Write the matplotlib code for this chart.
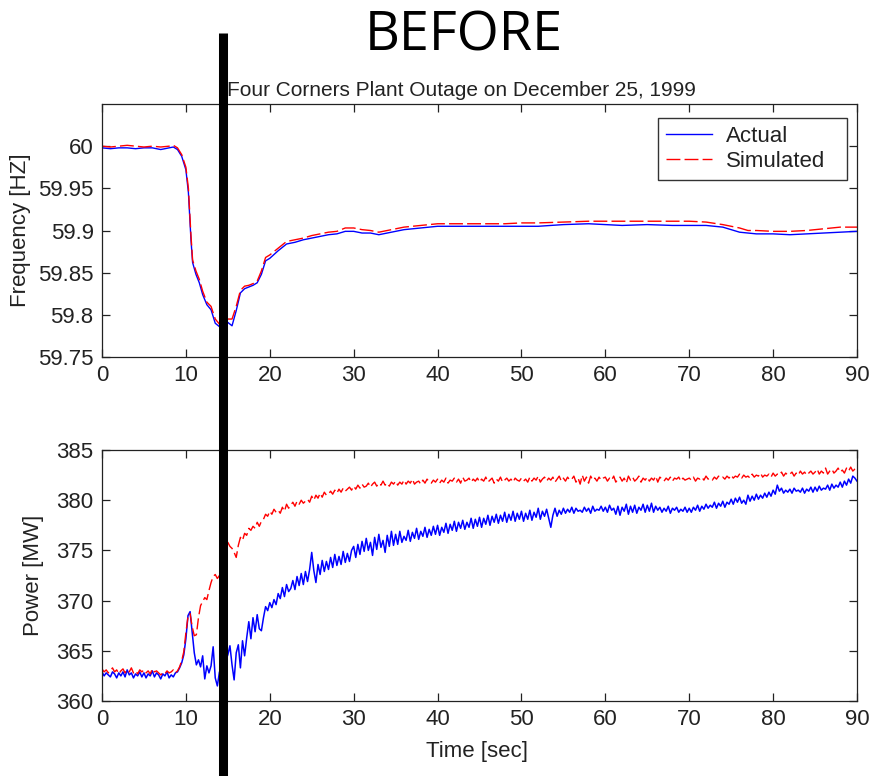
import numpy as np
import matplotlib
matplotlib.use("Agg")
import matplotlib.pyplot as plt
from matplotlib.lines import Line2D

plt.rcParams['font.family'] = ['Liberation Sans', 'DejaVu Sans']

# ---------------- data ----------------
freq_time = [0, 1, 2, 3, 4, 5, 6, 7, 8, 8.5,
             9, 9.5, 10, 10.3, 10.6, 10.8, 11.2, 11.6, 12, 12.5,
             13, 13.5, 14, 14.5, 15, 15.5, 16, 16.5, 17, 17.5,
             18, 18.5, 19, 19.5, 20, 21, 22, 23, 24, 25,
             26, 27, 28, 29, 30, 31, 32, 33, 34, 35,
             36, 38, 40, 42, 45, 48, 50, 52, 55, 58,
             60, 62, 65, 68, 70, 72, 74, 75, 76, 77,
             78, 80, 82, 84, 86, 88, 90]
freq_actual = [59.998, 59.997, 59.998, 59.998, 59.997, 59.998, 59.998, 59.996, 59.998, 59.999,
               59.996, 59.988, 59.972, 59.945, 59.890, 59.862, 59.848, 59.838, 59.824, 59.812,
               59.806, 59.790, 59.786, 59.790, 59.791, 59.787, 59.805, 59.826, 59.831, 59.833,
               59.835, 59.838, 59.848, 59.864, 59.867, 59.876, 59.884, 59.886, 59.889, 59.891,
               59.893, 59.895, 59.896, 59.899, 59.899, 59.897, 59.897, 59.895, 59.897, 59.899,
               59.901, 59.903, 59.905, 59.905, 59.905, 59.905, 59.905, 59.905, 59.907, 59.908,
               59.907, 59.906, 59.907, 59.906, 59.906, 59.906, 59.904, 59.901, 59.898, 59.897,
               59.896, 59.896, 59.895, 59.896, 59.897, 59.898, 59.899]
freq_simulated = [60.000, 59.999, 60.000, 60.001, 60.000, 59.999, 60.000, 59.999, 60.000, 60.001,
                  59.998, 59.990, 59.975, 59.950, 59.895, 59.865, 59.852, 59.842, 59.828, 59.815,
                  59.810, 59.795, 59.789, 59.792, 59.795, 59.795, 59.810, 59.829, 59.834, 59.835,
                  59.837, 59.840, 59.852, 59.868, 59.871, 59.879, 59.887, 59.889, 59.891, 59.894,
                  59.896, 59.898, 59.899, 59.903, 59.903, 59.901, 59.900, 59.898, 59.900, 59.902,
                  59.904, 59.906, 59.908, 59.908, 59.908, 59.908, 59.909, 59.909, 59.910, 59.911,
                  59.911, 59.911, 59.911, 59.911, 59.911, 59.910, 59.907, 59.905, 59.903, 59.900,
                  59.900, 59.899, 59.899, 59.900, 59.902, 59.904, 59.904]

# power sampled every 0.25 s from 0 to 90 s
power_actual = [
    362.9, 362.5, 362.8, 362.6, 362.4, 362.9, 362.7, 362.3, 362.8, 362.5, 362.9, 362.4, 363.1, 362.6, 362.8, 362.3, 362.7, 362.5, 362.9, 362.4,
    362.8, 362.3, 362.7, 362.5, 363.0, 362.4, 362.8, 362.6, 362.2, 362.7, 362.5, 362.9, 362.3, 362.6, 362.4, 362.8, 362.9, 363.3, 363.8, 364.6,
    366.2, 368.5, 368.9, 366.8, 364.8, 363.6, 364.1, 363.4, 364.5, 362.2, 363.5, 362.8, 363.5, 365.4, 362.3, 361.5, 362.9, 362.4, 363.2, 364.0,
    364.6, 365.5, 363.6, 362.1, 364.8, 365.6, 363.3, 366.0, 364.5, 366.3, 367.9, 366.2, 368.3, 366.9, 368.6, 367.2, 367.0, 368.3, 369.4, 369.0,
    369.8, 369.3, 370.1, 369.6, 370.7, 370.2, 371.3, 370.4, 371.6, 370.9, 371.2, 372.0, 371.1, 372.4, 371.5, 372.7, 371.6, 372.9, 371.9, 373.1,
    374.8, 373.0, 371.8, 373.6, 372.6, 374.0, 372.9, 373.9, 373.1, 374.3, 373.3, 374.6, 373.5, 374.4, 373.6, 374.9, 373.8, 374.7, 373.9, 375.0,
    375.4, 374.3, 375.6, 374.6, 375.9, 374.9, 376.2, 375.0, 375.8, 374.5, 376.3, 375.1, 376.6, 375.3, 376.0, 374.8, 376.5, 375.4, 376.9, 375.5,
    376.6, 375.6, 376.9, 375.8, 376.4, 376.0, 377.0, 375.9, 376.8, 376.2, 377.2, 376.1, 376.9, 376.4, 377.3, 376.3, 377.1, 376.5, 377.4, 376.6,
    377.5, 376.5, 377.3, 376.8, 377.7, 376.7, 377.6, 377.0, 377.9, 376.9, 377.8, 377.2, 378.0, 377.1, 377.8, 377.3, 378.2, 377.2, 378.1, 377.4,
    378.3, 377.3, 378.2, 377.6, 378.5, 377.5, 378.4, 377.8, 378.6, 377.7, 378.5, 377.9, 378.8, 377.8, 378.6, 378.0, 378.9, 377.9, 378.7, 378.1,
    378.9, 377.9, 378.7, 378.1, 379.0, 378.0, 378.8, 378.3, 379.2, 378.1, 378.9, 378.4, 379.1, 378.2, 377.3, 378.5, 379.2, 378.4, 379.0, 378.6,
    379.2, 378.7, 379.1, 378.8, 379.3, 378.7, 379.2, 378.9, 379.0, 378.8, 379.3, 378.9, 379.2, 378.7, 379.4, 378.9, 379.1, 379.0, 379.4, 378.9,
    379.3, 378.8, 379.5, 379.0, 379.2, 378.6, 379.4, 378.5, 379.3, 378.9, 379.6, 378.6, 379.4, 378.8, 379.5, 378.7, 379.3, 379.0, 379.6, 378.8,
    379.5, 378.9, 379.7, 378.8, 379.4, 379.0, 379.3, 378.8, 379.2, 378.9, 379.4, 378.7, 379.2, 379.0, 379.3, 378.8, 379.1, 378.9, 379.3, 378.8,
    379.2, 378.8, 379.3, 379.0, 379.5, 378.9, 379.4, 379.1, 379.6, 379.2, 379.5, 379.3, 379.8, 379.2, 379.7, 379.4, 379.9, 379.3, 379.8, 379.6,
    380.1, 379.6, 380.2, 379.8, 380.3, 379.7, 380.0, 379.6, 380.5, 379.9, 380.4, 380.0, 380.6, 380.1, 380.5, 380.2, 380.7, 380.3, 380.8, 380.4,
    381.0, 380.6, 381.5, 380.9, 381.2, 380.7, 381.0, 380.8, 381.1, 380.7, 381.2, 380.9, 381.0, 380.8, 381.2, 380.7, 381.1, 380.9, 381.3, 380.8,
    381.3, 380.9, 381.4, 381.0, 381.2, 381.1, 381.5, 381.0, 381.6, 381.2, 381.5, 381.3, 381.8, 381.3, 381.9, 381.5, 382.1, 381.7, 382.4, 382.2,
    381.9]
power_simulated = [
    363.2, 362.9, 363.1, 362.8, 363.0, 363.3, 362.9, 363.1, 362.7, 363.0, 363.2, 362.8, 363.1, 362.9, 363.3, 362.8, 363.0, 362.7, 363.1, 362.9,
    363.1, 362.8, 363.0, 362.7, 363.2, 362.9, 363.0, 362.8, 362.6, 362.8, 362.7, 363.0, 362.8, 362.9, 363.1, 362.8, 363.0, 363.4, 364.0, 364.9,
    366.8, 368.4, 368.7, 367.4, 366.5, 366.6, 368.3, 369.5, 369.9, 370.3, 370.1, 371.0, 371.8, 372.4, 372.6, 372.2, 372.5, 372.3, 373.5, 375.0,
    375.8, 375.4, 375.2, 374.8, 374.3, 375.5, 376.3, 376.0, 376.7, 376.5, 377.2, 377.0, 377.4, 377.2, 377.8, 377.4, 377.9, 378.1, 378.6, 378.4,
    378.9, 378.6, 379.1, 378.8, 379.0, 378.7, 379.3, 378.9, 379.6, 379.2, 379.5, 379.8, 379.4, 379.9, 379.6, 380.0, 379.7, 379.9, 380.1, 379.8,
    380.4, 380.0, 380.5, 380.2, 380.7, 380.3, 380.8, 380.5, 380.6, 380.9, 380.6, 381.0, 380.7, 381.1, 380.8, 381.2, 380.9, 381.1, 381.3, 381.0,
    381.4, 381.1, 381.5, 381.2, 381.6, 381.3, 381.4, 381.7, 381.3, 381.6, 381.8, 381.4, 381.7, 381.5, 381.9, 381.5, 381.7, 381.4, 381.8, 381.6,
    381.9, 381.5, 381.8, 381.6, 382.0, 381.6, 381.9, 381.7, 382.1, 381.6, 381.8, 381.9, 381.6, 382.0, 381.7, 382.1, 381.8, 381.7, 382.0, 381.8,
    382.1, 381.7, 382.0, 381.8, 382.2, 381.7, 382.0, 381.9, 382.2, 381.8, 382.1, 381.7, 382.3, 381.9, 382.0, 382.2, 381.8, 382.1, 381.9, 382.2,
    381.8, 382.1, 381.9, 382.3, 381.8, 382.0, 382.2, 381.7, 382.1, 381.9, 382.3, 381.8, 382.0, 382.2, 381.9, 382.1, 381.8, 382.2, 382.0, 381.9,
    382.2, 381.9, 382.1, 381.8, 382.3, 381.9, 382.2, 382.0, 382.4, 381.8, 382.1, 382.3, 381.9, 382.2, 382.0, 382.3, 381.8, 382.1, 382.4, 381.9,
    382.2, 381.9, 382.3, 382.0, 382.1, 382.4, 381.8, 382.2, 381.6, 382.5, 381.9, 382.3, 381.7, 382.4, 382.0, 382.2, 381.9, 382.3, 382.0, 382.2,
    382.3, 381.9, 382.2, 382.0, 382.4, 381.8, 382.1, 382.3, 381.9, 382.2, 381.7, 382.4, 382.0, 382.3, 381.9, 382.1, 382.4, 381.8, 382.2, 382.0,
    382.3, 381.9, 382.2, 382.0, 382.4, 381.8, 382.3, 382.1, 381.9, 382.2, 382.0, 382.3, 381.9, 382.2, 382.1, 382.3, 381.9, 382.2, 382.0, 382.1,
    382.2, 382.0, 382.3, 381.9, 382.2, 382.1, 382.3, 382.0, 382.4, 382.1, 382.2, 382.0, 382.3, 382.1, 382.4, 382.2, 382.3, 382.1, 382.4, 382.2,
    382.5, 382.2, 382.4, 382.3, 382.6, 382.2, 382.5, 382.3, 382.4, 382.2, 382.6, 382.3, 382.5, 382.4, 382.7, 382.3, 382.5, 382.4, 382.6, 382.3,
    382.7, 382.4, 382.6, 382.5, 382.8, 382.4, 382.7, 382.5, 382.6, 382.8, 382.4, 382.7, 382.5, 382.9, 382.6, 382.8, 382.5, 382.7, 382.9, 382.6,
    382.8, 383.1, 382.6, 382.9, 382.7, 383.2, 382.6, 382.9, 383.1, 382.7, 382.9, 383.2, 382.8, 383.0, 382.7, 383.2, 382.9, 383.3, 382.9, 383.1,
    383.2]
time_start, time_end = 0, 90

x_ticks = [0, 10, 20, 30, 40, 50, 60, 70, 80, 90]
freq_ticks = [59.75, 59.8, 59.85, 59.9, 59.95, 60.0]
freq_ticklabels = ['59.75', '59.8', '59.85', '59.9', '59.95', '60']
power_ticks = [360, 365, 370, 375, 380, 385]

# ---------------- figure ----------------
W, H = 871, 776
fig = plt.figure(figsize=(W / 100, H / 100), dpi=100)
fs = 16
ink = '#222222'

def box(l, t, r, b):
    return [l / W, 1 - b / H, (r - l) / W, (b - t) / H]

ax1 = fig.add_axes(box(102, 104, 857, 357))
ax2 = fig.add_axes(box(102, 450, 857, 701))

for ax in (ax1, ax2):
    ax.tick_params(direction='in', top=True, right=True, length=6, width=0.9,
                   labelsize=fs, pad=6, colors=ink, labelcolor=ink)
    for s in ax.spines.values():
        s.set_linewidth(0.9)
        s.set_color(ink)
    ax.set_xlim(0, 90)
    ax.set_xticks(x_ticks)

dash = (0, (10, 3))
ax1.plot(freq_time, freq_actual, color='blue', lw=1.0, label='Actual')
ax1.plot(freq_time, freq_simulated, color='red', lw=1.0, linestyle=dash, label='Simulated')
ax1.set_ylim(59.75, 60.05)
ax1.set_yticks(freq_ticks)
ax1.set_yticklabels(freq_ticklabels)
ax1.set_ylabel('Frequency [HZ]', fontsize=fs, color=ink)
ax1.yaxis.set_label_coords(-(102 - 20.5) / 755, 0.5)
ax1.yaxis.label.set_va('center')

leg = ax1.legend(loc='upper left',
                 bbox_to_anchor=((658 - 102) / 755, (357 - 177) / 253, 189 / 755, 59 / 253),
                 mode='expand', borderaxespad=0, fontsize=fs, frameon=True, fancybox=False,
                 edgecolor='black', handlelength=2.1, handletextpad=0.6,
                 labelspacing=0.2, borderpad=0.35)
leg.get_frame().set_linewidth(1.0)
for t in leg.get_texts():
    t.set_color(ink)

t_act = np.linspace(time_start, time_end, len(power_actual))
t_sim = np.linspace(time_start, time_end, len(power_simulated))
ax2.plot(t_act, power_actual, color='blue', lw=1.1)
ax2.plot(t_sim, power_simulated, color='red', lw=1.0, linestyle=(0, (8, 3)))
ax2.set_ylim(360, 385)
ax2.set_yticks(power_ticks)
ax2.set_ylabel('Power [MW]', fontsize=fs, color=ink)
ax2.yaxis.set_label_coords(-(102 - 34) / 755, 0.5)
ax2.yaxis.label.set_va('center')
ax2.set_xlabel('Time [sec]', fontsize=fs, color=ink)
ax2.xaxis.set_label_coords((477 - 102) / 755, -(752 - 701) / 251)
ax2.xaxis.label.set_va('center')

fig.text(464 / W, 1 - 36 / H, 'BEFORE', fontsize=39, family=['Open Sans', 'DejaVu Sans'],
         ha='center', va='center', color='black')
fig.text(461 / W, 1 - 90 / H, 'Four Corners Plant Outage on December 25, 1999',
         fontsize=15, ha='center', va='center', color=ink)

fig.add_artist(Line2D([222.5 / W, 222.5 / W], [0, 1 - 33 / H], transform=fig.transFigure,
                      color='black', lw=6.5, solid_capstyle='butt'))

fig.savefig('out.png', dpi=100)
